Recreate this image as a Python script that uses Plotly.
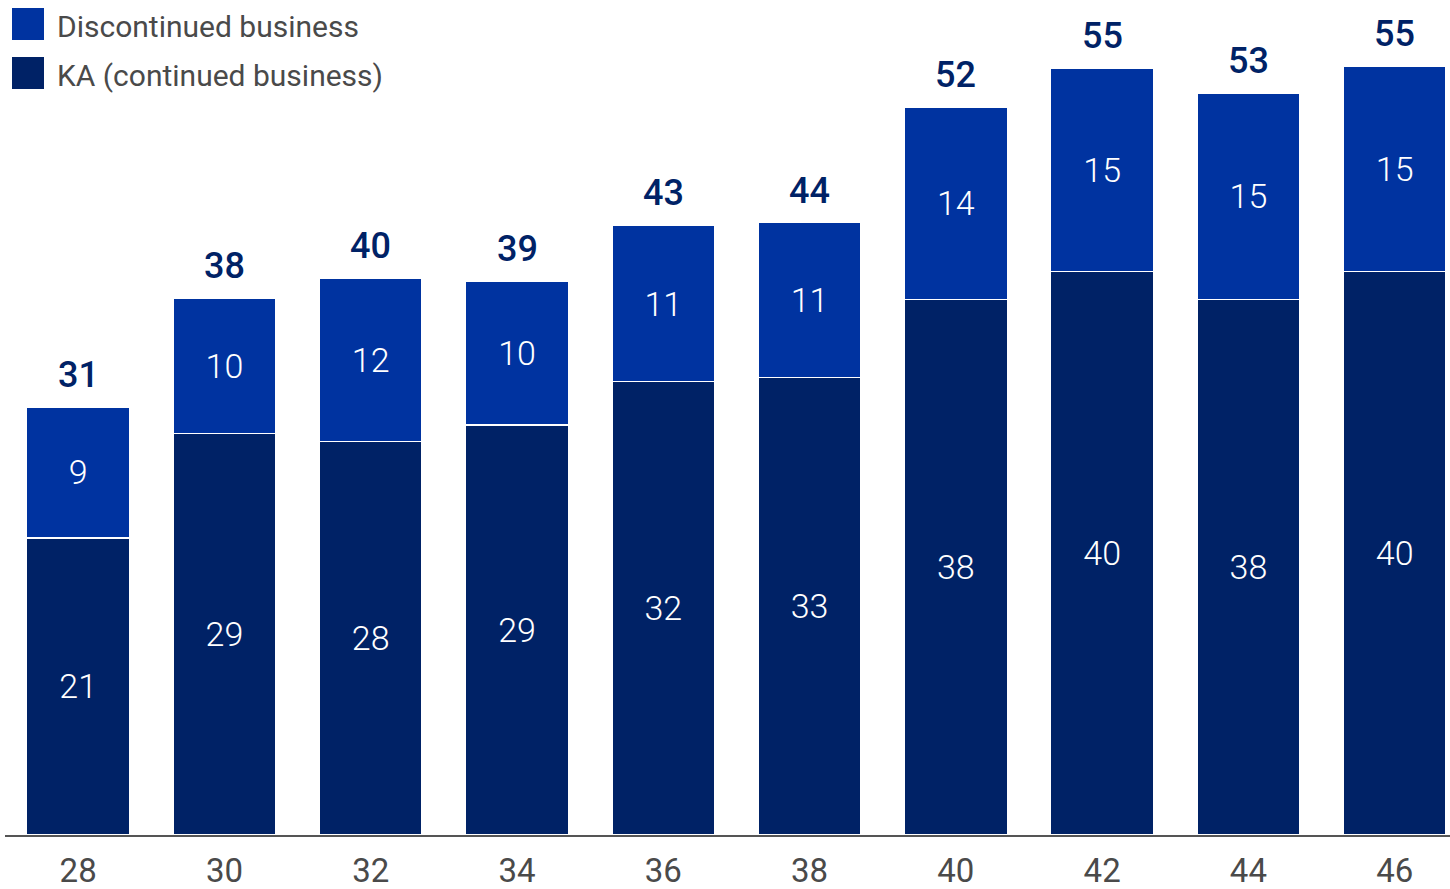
import plotly.graph_objects as go

# ---- data ----
categories = ["28", "30", "32", "34", "36", "38", "40", "42", "44", "46"]
ka_continued = [21.3, 28.8, 28.2, 29.4, 32.5, 32.8, 38.4, 40.4, 38.4, 40.4]
discontinued = [9.4, 9.7, 11.7, 10.3, 11.2, 11.1, 13.8, 14.6, 14.8, 14.7]
ka_labels = ["21", "29", "28", "29", "32", "33", "38", "40", "38", "40"]
disc_labels = ["9", "10", "12", "10", "11", "11", "14", "15", "15", "15"]
total_labels = ["31", "38", "40", "39", "43", "44", "52", "55", "53", "55"]
series_names = ["KA (continued business)", "Discontinued business"]

# ---- styles ----
DARK = "#002266"
LIGHT = "#0033A0"
GRAY = "#4a4a4a"
FONT = "Roboto"
W, H = 1450, 889
ML, MR, MT, MB = 5, 0, 0, 54

fig = go.Figure()
fig.add_trace(go.Bar(
    x=categories, y=ka_continued, name=series_names[0],
    marker=dict(color=DARK, line=dict(color="white", width=1.5)),
    text=ka_labels, textposition="inside", insidetextanchor="middle",
    textfont=dict(family=FONT, size=34, color="white", weight=300),
    hoverinfo="skip",
))
fig.add_trace(go.Bar(
    x=categories, y=discontinued, name=series_names[1],
    marker=dict(color=LIGHT, line=dict(color="white", width=1.5)),
    text=disc_labels, textposition="inside", insidetextanchor="middle",
    textfont=dict(family=FONT, size=34, color="white", weight=300),
    hoverinfo="skip",
))

totals = [a + b for a, b in zip(ka_continued, discontinued)]
annotations = []
for i, (t, lab) in enumerate(zip(totals, total_labels)):
    annotations.append(dict(
        x=i, y=t, xref="x", yref="y", text=lab, showarrow=False,
        yanchor="middle", yshift=32,
        font=dict(family=FONT, size=36, color=DARK, weight=500),
    ))

# manual legend (large squares)
plot_w = W - ML - MR
plot_h = H - MT - MB
def px_x(p):
    return (p - ML) / plot_w
def px_y(p):
    return (H - MB - p) / plot_h

shapes = []
legend_items = [(series_names[1], LIGHT, 24), (series_names[0], DARK, 73)]
for name, col, cy in legend_items:
    shapes.append(dict(type="rect", xref="paper", yref="paper",
                       x0=px_x(12), x1=px_x(44), y0=px_y(cy + 16), y1=px_y(cy - 16),
                       fillcolor=col, line=dict(width=0)))
    annotations.append(dict(x=px_x(55), y=px_y(cy + 3), xref="paper", yref="paper",
                            text=name, showarrow=False, xanchor="left", yanchor="middle",
                            font=dict(family=FONT, size=30, color=GRAY)))

fig.update_layout(
    barmode="stack",
    bargap=0.296,
    width=W, height=H,
    margin=dict(l=ML, r=MR, t=MT, b=MB, autoexpand=False),
    plot_bgcolor="white", paper_bgcolor="white",
    showlegend=False,
    annotations=annotations,
    shapes=shapes,
    xaxis=dict(type="category", range=[-0.5, 9.378], showgrid=False,
               showline=True, linecolor="#555555", linewidth=2,
               ticks="", tickfont=dict(family=FONT, size=33, color=GRAY),
               ticklabelstandoff=5, automargin=False),
    yaxis=dict(range=[0, 59.86], visible=False, showgrid=False, automargin=False),
)

fig.write_html("out.html", config={"displayModeBar": False},
               post_script="document.body.style.margin='0';document.body.style.padding='0';")
